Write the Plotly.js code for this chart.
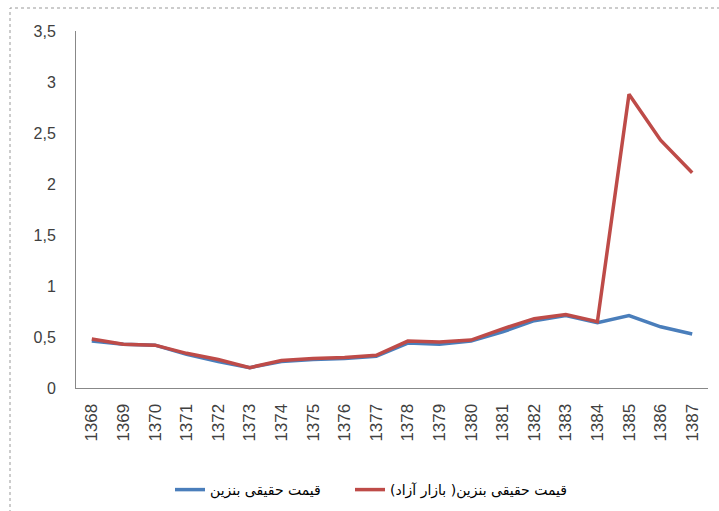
<!DOCTYPE html>
<html>
<head>
<meta charset="utf-8">
<script src="https://cdn.plot.ly/plotly-3.0.1.min.js"></script>
<style>
  html, body { margin: 0; padding: 0; background: #fff; }
  #chart { width: 719px; height: 511px; }
</style>
</head>
<body>
<div id="chart"></div>
<script>
const years = ['1368','1369','1370','1371','1372','1373','1374','1375','1376','1377',
               '1378','1379','1380','1381','1382','1383','1384','1385','1386','1387'];
const realPrice = [0.46,0.43,0.42,0.33,0.26,0.20,0.26,0.28,0.29,0.31,
                   0.44,0.43,0.46,0.55,0.66,0.71,0.64,0.71,0.60,0.53];
const realPriceFreeMarket = [0.48,0.43,0.42,0.34,0.28,0.20,0.27,0.29,0.30,0.32,
                             0.46,0.45,0.47,0.58,0.68,0.72,0.65,2.88,2.43,2.11];
const seriesNames = ['قیمت حقیقی بنزین', 'قیمت حقیقی بنزین( بازار آزاد)'];
const yTicks = [0, 0.5, 1, 1.5, 2, 2.5, 3, 3.5];

const traces = [
  { x: years, y: realPrice, name: seriesNames[0], type: 'scatter', mode: 'lines',
    line: { color: '#4A7EBB', width: 3.5 }, legend: 'legend' },
  { x: years, y: realPriceFreeMarket, name: seriesNames[1], type: 'scatter', mode: 'lines',
    line: { color: '#BE4B48', width: 3.5 }, legend: 'legend2' }
];

const legendFont = { family: 'DejaVu Sans', size: 14, color: '#000' };
const layout = {
  width: 719, height: 511,
  margin: { l: 76, r: 11, t: 31, b: 123 },
  paper_bgcolor: '#fff', plot_bgcolor: '#fff',
  separators: ',.',
  showlegend: true,
  legend: { orientation: 'h', xref: 'container', yref: 'container',
            x: 170 / 719, xanchor: 'left', y: (511 - 490) / 511, yanchor: 'middle',
            font: legendFont, bgcolor: 'rgba(0,0,0,0)' },
  legend2: { orientation: 'h', xref: 'container', yref: 'container',
            x: 350 / 719, xanchor: 'left', y: (511 - 490) / 511, yanchor: 'middle',
            font: legendFont, bgcolor: 'rgba(0,0,0,0)' },
  xaxis: {
    type: 'category', showgrid: false, zeroline: false, automargin: false,
    showline: true, linecolor: '#888', linewidth: 1,
    ticks: '', tickangle: -90, ticklabelstandoff: 8,
    tickfont: { family: 'Liberation Sans', size: 17, color: '#404040' },
    range: [-0.5, 19.5]
  },
  yaxis: {
    range: [0, 3.5], tickvals: yTicks, showgrid: false, zeroline: false, automargin: false,
    showline: true, linecolor: '#888', linewidth: 1,
    ticks: '', ticklabelstandoff: 16,
    tickfont: { family: 'Liberation Sans', size: 16, color: '#404040' }
  },
  shapes: [{
    type: 'rect', xref: 'paper', yref: 'paper',
    x0: (10 - 76) / 632, x1: (740 - 76) / 632,
    y0: (388 - 530) / 357, y1: 1 + (31 - 8) / 357,
    line: { color: '#999', width: 1, dash: 'dot' }, fillcolor: 'rgba(0,0,0,0)', layer: 'below'
  }]
};

Plotly.newPlot('chart', traces, layout, { displayModeBar: false, staticPlot: true });
</script>
</body>
</html>
